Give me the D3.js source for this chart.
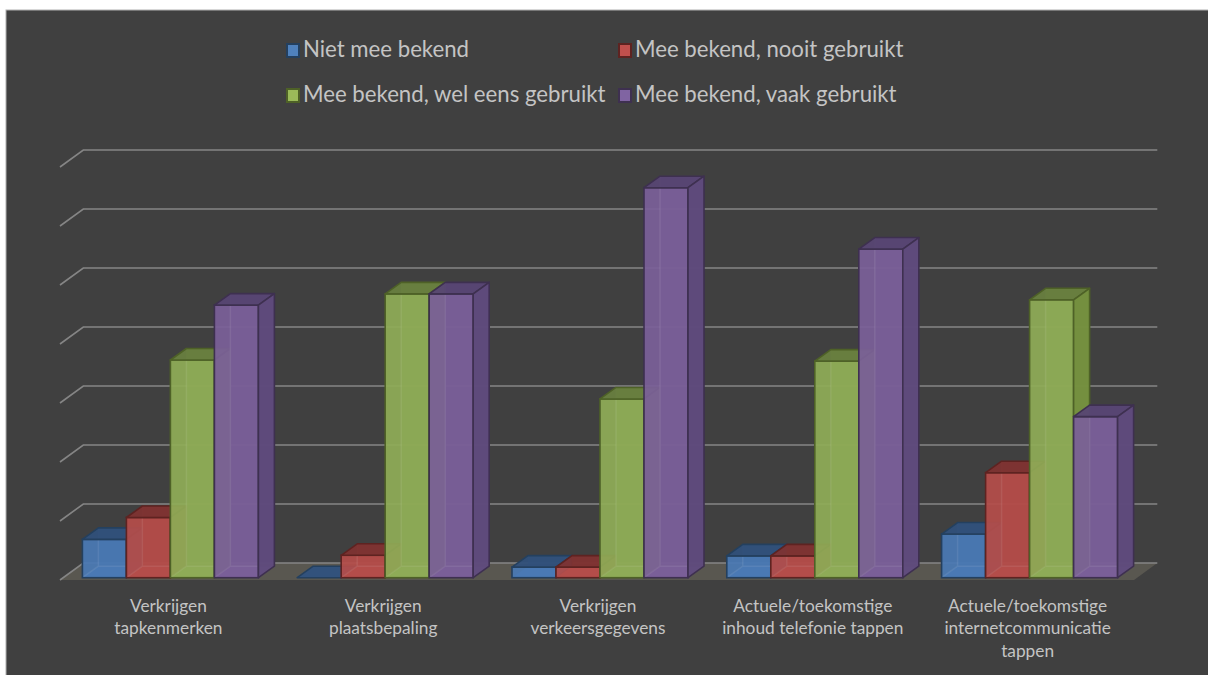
<!DOCTYPE html>
<html><head><meta charset="utf-8">
<script src="https://cdn.jsdelivr.net/npm/d3@7"></script>
<style>body{margin:0;background:#fff;overflow:hidden}</style>
</head><body>
<svg id="chart" width="1208" height="675"></svg>
<script>
// ---- data ----
const categories = [
  "Verkrijgen\ntapkenmerken",
  "Verkrijgen\nplaatsbepaling",
  "Verkrijgen\nverkeersgegevens",
  "Actuele/toekomstige\ninhoud telefonie tappen",
  "Actuele/toekomstige\ninternetcommunicatie\ntappen"
];
const seriesNames = [
  "Niet mee bekend",
  "Mee bekend, nooit gebruikt",
  "Mee bekend, wel eens gebruikt",
  "Mee bekend, vaak gebruikt"
];
const nietMeeBekend   = [6.5, 0.0, 1.8, 3.7, 7.4];
const nooitGebruikt   = [10.2, 3.8, 1.8, 3.7, 17.8];
const welEensGebruikt = [36.9, 48.1, 30.3, 36.7, 47.1];
const vaakGebruikt    = [46.2, 48.1, 66.1, 55.7, 27.3];
const yTicks = [0, 10, 20, 30, 40, 50, 60, 70];

const seriesValues = [nietMeeBekend, nooitGebruikt, welEensGebruikt, vaakGebruikt];
const colors = [
  {front:"#4a7ab5", top:"#30507a", side:"#365a88", stroke:"#24405f", legend:"#4f81bd"},
  {front:"#b54d4a", top:"#7e3331", side:"#8c3a37", stroke:"#5e2321", legend:"#c0504d"},
  {front:"#8fad57", top:"#687e3f", side:"#75903f", stroke:"#4e6127", legend:"#9bbb59"},
  {front:"#7b5f99", top:"#574673", side:"#5f4b7c", stroke:"#3e3050", legend:"#8064a2"}
];

// ---- layout ----
const svg = d3.select("#chart");
const floorFrontLeft = 60, floorFrontRight = 1134, floorFrontY = 580;
const depth = {x: 23.3, y: -17};
const barOff = {x: 3, y: -2.3};
const barDepth = {x: 16, y: -11.5};

svg.append("rect").attr("x",6).attr("y",10).attr("width",1204).attr("height",667)
  .attr("fill","#404040").attr("stroke","#b0b0b0").attr("stroke-width",1);

const yGrid = d3.scaleLinear().domain([0,70]).range([floorFrontY + depth.y, floorFrontY + depth.y - 413]);
const yBar = d3.scaleLinear().domain([0,70]).range([floorFrontY + barOff.y, floorFrontY + barOff.y - 413]);
const xGroup = d3.scaleBand().domain(d3.range(categories.length))
  .range([floorFrontLeft, floorFrontRight]).paddingInner(0.1806).paddingOuter(0.0903);
const xSeries = d3.scaleBand().domain(d3.range(seriesNames.length)).range([0, xGroup.bandwidth()]);
const xFront = d3.scaleBand().domain(d3.range(categories.length)).range([floorFrontLeft, floorFrontRight]);

// floor
const fy = floorFrontY;
svg.append("path")
  .attr("d", `M${floorFrontLeft},${fy} L${floorFrontLeft+depth.x},${fy+depth.y} L${floorFrontRight+depth.x},${fy+depth.y} L${floorFrontRight},${fy} Z`)
  .attr("fill","#595750");

// gridlines
svg.append("g").selectAll("path").data(yTicks).join("path")
  .attr("d", d => {
    const g = yGrid(d);
    return `M${floorFrontLeft},${g - depth.y} L${floorFrontLeft+depth.x},${g} L${floorFrontRight+depth.x},${g}`;
  })
  .attr("fill","none").attr("stroke","#858585").attr("stroke-width",1.6);

// bars
const gBars = svg.append("g");
categories.forEach((c, ci) => {
  seriesValues.forEach((vals, si) => {
    const v = vals[ci];
    const col = colors[si];
    const x0 = xGroup(ci) + barOff.x + xSeries(si);
    const w = xSeries.bandwidth();
    const yb = yBar(0), yt = yBar(v);
    const dx = barDepth.x, dy = barDepth.y;
    const g = gBars.append("g");
    // hidden back faces (seen through semi-transparent fronts)
    g.append("path")
      .attr("d", `M${x0+dx},${yb+dy} L${x0+dx},${yt+dy} L${x0+w+dx},${yt+dy} L${x0+w+dx},${yb+dy} Z`)
      .attr("fill", col.side).attr("fill-opacity",0.6);
    g.append("path")
      .attr("d", `M${x0},${yb} L${x0+dx},${yb+dy} L${x0+w+dx},${yb+dy} L${x0+w},${yb} Z`)
      .attr("fill", col.front).attr("fill-opacity",0.8);
    // front
    g.append("rect").attr("x",x0).attr("y",yt).attr("width",w).attr("height",yb-yt)
      .attr("fill",col.front).attr("fill-opacity",0.92);
    // faint hidden edges
    if (yb - yt > 12) {
      g.append("path")
        .attr("d", `M${x0+dx},${yt+dy} L${x0+dx},${yb+dy} L${x0+w},${yb+dy} M${x0},${yb} L${x0+dx},${yb+dy}`)
        .attr("fill","none").attr("stroke","#ffffff").attr("stroke-opacity",0.08).attr("stroke-width",1.5);
    }
    g.append("rect").attr("x",x0).attr("y",yt).attr("width",w).attr("height",yb-yt)
      .attr("fill","none").attr("stroke",col.stroke).attr("stroke-width",1.6);
    // top
    g.append("path")
      .attr("d", `M${x0},${yt} L${x0+dx},${yt+dy} L${x0+w+dx},${yt+dy} L${x0+w},${yt} Z`)
      .attr("fill",col.top).attr("fill-opacity",0.95)
      .attr("stroke",col.stroke).attr("stroke-width",1.6).attr("stroke-linejoin","round");
    // side
    g.append("path")
      .attr("d", `M${x0+w},${yt} L${x0+w+dx},${yt+dy} L${x0+w+dx},${yb+dy} L${x0+w},${yb} Z`)
      .attr("fill",col.side).attr("fill-opacity",0.95)
      .attr("stroke",col.stroke).attr("stroke-width",1.6).attr("stroke-linejoin","round");
  });
});

// category labels
const labels = svg.append("g").attr("font-family","Lato, 'Open Sans', sans-serif")
  .attr("font-size",17.3).attr("fill","#c4c4c4").attr("text-anchor","middle");
categories.forEach((c, ci) => {
  const cx = xFront(ci) + xFront.bandwidth()/2 + 1;
  const t = labels.append("text").attr("x", cx).attr("y", 611.5);
  c.split("\n").forEach((line, li) => {
    t.append("tspan").attr("x", cx).attr("dy", li === 0 ? 0 : 22.7).text(line);
  });
});

// legend
const legendPos = [
  {x:286, y:43}, {x:618, y:43},
  {x:286, y:88}, {x:618, y:88}
];
const lg = svg.append("g").attr("font-family","Lato, 'Open Sans', sans-serif")
  .attr("font-size",22.2).attr("fill","#c4c4c4");
seriesNames.forEach((name, si) => {
  const p = legendPos[si];
  lg.append("rect").attr("x",p.x+1).attr("y",p.y+1).attr("width",12).attr("height",13)
    .attr("fill",colors[si].legend).attr("stroke",colors[si].stroke).attr("stroke-width",2);
  lg.append("text").attr("x",p.x+17).attr("y",p.y+14).text(name);
});
</script>
</body></html>
